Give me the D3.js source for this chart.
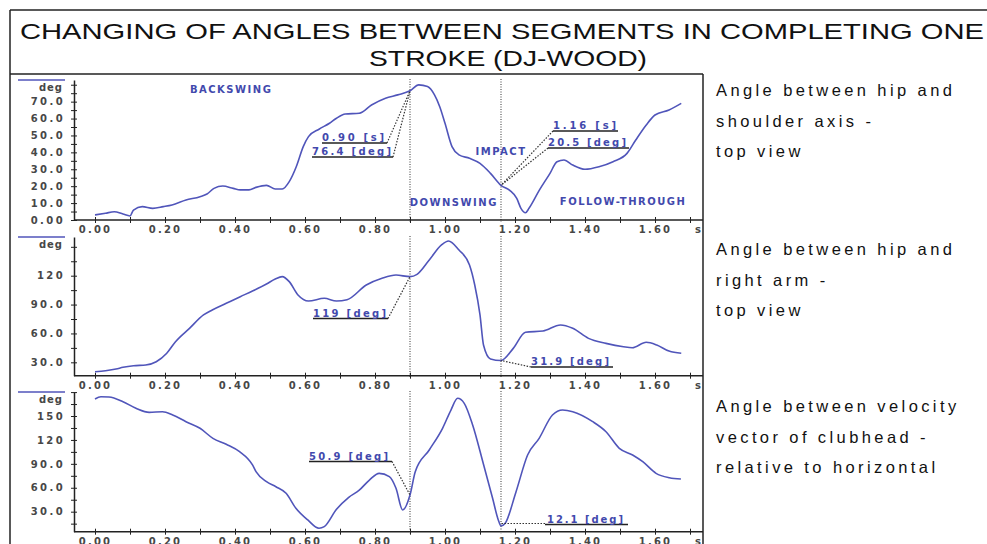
<!DOCTYPE html>
<html>
<head>
<meta charset="utf-8">
<script src="https://cdn.jsdelivr.net/npm/d3@7"></script>
<style>
  body { margin: 0; background: #fff; }
  svg { display: block; }
</style>
</head>
<body>
<svg></svg>
<script>
// ---- data ----
const titleLines = ["CHANGING OF ANGLES BETWEEN SEGMENTS IN COMPLETING ONE", "STROKE (DJ-WOOD)"];

// angle between hip and shoulder axis (top view)
const shoulderT = [0, 0.03, 0.055, 0.08, 0.10, 0.11, 0.135, 0.165, 0.195, 0.22, 0.26, 0.30, 0.32, 0.34, 0.365,
  0.395, 0.415, 0.44, 0.46, 0.49, 0.515, 0.535, 0.555, 0.575, 0.595, 0.61, 0.64, 0.67, 0.69, 0.715, 0.755,
  0.79, 0.83, 0.865, 0.90, 0.925, 0.95, 0.97, 0.985, 1.00, 1.02, 1.04, 1.07, 1.10, 1.13, 1.16, 1.185, 1.205,
  1.217, 1.23, 1.24, 1.27, 1.30, 1.32, 1.34, 1.365, 1.40, 1.44, 1.48, 1.52, 1.545, 1.575, 1.60, 1.64, 1.675];
const shoulderDeg = [3.0, 4.0, 4.9, 3.5, 2.4, 5.9, 7.9, 6.9, 7.9, 8.9, 11.8, 13.8, 15.4, 18.7, 20.1,
  18.7, 17.8, 17.8, 19.3, 20.5, 18.3, 18.3, 22.7, 31.5, 43.4, 49.3, 53.7, 57.2, 60.2, 62.7, 63.1,
  68.0, 72.0, 74.0, 76.4, 79.9, 78.9, 74.0, 67.0, 57.2, 43.4, 38.5, 36.5, 33.5, 27.6, 20.5, 17.5, 12.8,
  6.9, 4.3, 6.9, 17.8, 27.6, 34.5, 35.5, 32.5, 30.0, 31.5, 34.5, 39.4, 47.3, 56.2, 62.1, 65.1, 69.0];

// angle between hip and right arm (top view)
const armT = [0, 0.03, 0.06, 0.08, 0.11, 0.145, 0.175, 0.205, 0.23, 0.27, 0.31, 0.335, 0.375, 0.415, 0.45,
  0.49, 0.515, 0.535, 0.555, 0.58, 0.61, 0.655, 0.69, 0.72, 0.775, 0.82, 0.86, 0.90, 0.92, 0.955, 0.99,
  1.01, 1.04, 1.07, 1.085, 1.10, 1.11, 1.13, 1.16, 1.195, 1.23, 1.28, 1.33, 1.365, 1.41, 1.46, 1.51,
  1.535, 1.575, 1.605, 1.64, 1.675];
const armDeg = [20.2, 21.3, 23.0, 24.8, 26.5, 27.2, 30.6, 39.4, 51.4, 65.3, 79.2, 84.4, 91.3, 98.2, 104.1,
  111.4, 116.6, 119.0, 113.8, 100.0, 93.7, 96.5, 93.7, 95.0, 110.3, 117.3, 120.7, 119.0, 121.4, 136.3, 151.9,
  156.1, 146.7, 131.1, 110.3, 79.2, 48.0, 33.5, 31.9, 44.5, 61.2, 62.5, 68.8, 65.3, 54.9, 49.7, 46.2,
  45.2, 50.8, 48.0, 41.7, 39.4];

// angle between clubhead velocity vector and horizontal
const clubT = [0, 0.017, 0.04, 0.08, 0.117, 0.155, 0.193, 0.222, 0.26, 0.30, 0.337, 0.375, 0.413, 0.45,
  0.46, 0.49, 0.517, 0.546, 0.574, 0.608, 0.64, 0.655, 0.69, 0.725, 0.755, 0.784, 0.812, 0.841, 0.86,
  0.879, 0.90, 0.915, 0.955, 0.993, 1.017, 1.036, 1.055, 1.079, 1.108, 1.136, 1.152, 1.16, 1.172, 1.203,
  1.236, 1.269, 1.307, 1.336, 1.365, 1.422, 1.46, 1.498, 1.536, 1.565, 1.603, 1.641, 1.674];
const clubDeg = [171.3, 174.2, 173.8, 167.9, 159.7, 154.6, 155.4, 151.3, 142.9, 134.6, 122.0, 114.5, 105.2, 88.6,
  80.2, 67.6, 61.3, 53.1, 34.3, 19.6, 9.2, 11.2, 33.0, 48.0, 57.0, 69.7, 78.1, 73.9, 59.3,
  32.1, 50.9, 80.0, 107.4, 134.6, 157.5, 172.2, 165.9, 138.7, 92.7, 46.8, 20.0, 12.1, 15.5, 55.1,
  101.1, 122.0, 151.3, 157.5, 155.4, 142.9, 130.3, 109.5, 101.1, 92.7, 78.1, 72.6, 71.0];

const timeTicks = [0, 0.2, 0.4, 0.6, 0.8, 1.0, 1.2, 1.4, 1.6];
const shoulderTicks = [0, 10, 20, 30, 40, 50, 60, 70];
const armTicks = [30, 60, 90, 120];
const clubTicks = [30, 60, 90, 120, 150];

// key events: end of backswing and impact
const eventT = [0.90, 1.16];
const shoulderEvent = [76.4, 20.5];
const armEvent = [119, 31.9];
const clubEvent = [50.9, 12.1];

const phaseNames = ["BACKSWING", "DOWNSWING", "IMPACT", "FOLLOW-THROUGH"];
const phaseT = [0.389, 1.025, 1.16, 1.509];
const phaseDeg = [77.5, 10.6, 40.8, 11.2];

const panelNotes = [
  ["Angle between hip and", "shoulder axis -", "top view"],
  ["Angle between hip and", "right arm -", "top view"],
  ["Angle between velocity", "vector of clubhead -", "relative to horizontal"]
];

// ---- drawing ----
const W = 987, H = 544;
const blue = "#5055ba", textBlue = "#4249ad", tickGrey = "#474747";
const smallFont = "DejaVu Sans";

const svg = d3.select("svg").attr("width", W).attr("height", H);

const x = d3.scaleLinear().domain([0, 1]).range([95, 445]);

// frame
const frame = svg.append("g").attr("stroke", "#222").attr("stroke-width", 1.5);
frame.append("line").attr("x1", 10).attr("y1", 10).attr("x2", W).attr("y2", 10);
frame.append("line").attr("x1", 10).attr("y1", 10).attr("x2", 10).attr("y2", H);
frame.append("line").attr("x1", 10).attr("y1", 74).attr("x2", 703).attr("y2", 74);
frame.append("line").attr("x1", 703).attr("y1", 74).attr("x2", 703).attr("y2", H);

// title
svg.append("text").attr("x", 20).attr("y", 39)
  .attr("font-family", "Liberation Sans Narrow, Liberation Sans, Arial").attr("font-size", 22.5)
  .attr("fill", "#111").attr("textLength", 964).attr("lengthAdjust", "spacingAndGlyphs")
  .text(titleLines[0]);
svg.append("text").attr("x", 369).attr("y", 65.5)
  .attr("font-family", "Liberation Sans Narrow, Liberation Sans, Arial").attr("font-size", 22.5)
  .attr("fill", "#111").attr("textLength", 278).attr("lengthAdjust", "spacingAndGlyphs")
  .text(titleLines[1]);

const panels = [
  { t: shoulderT, v: shoulderDeg, ticks: shoulderTicks, step: 5, ev: shoulderEvent,
    domain: [0, 82.8], y0: 220, y1: 80, noteY: 96,
    labels: [
      { text: "0.90 [s]", ev: 0, x1: 322, x2: 384, base: 141, ux2: 387 },
      { text: "76.4 [deg]", ev: 0, x1: 312, x2: 391, base: 155, ux2: 393 },
      { text: "1.16 [s]", ev: 1, x1: 553, x2: 616, base: 129, ux2: 618, leadStart: true },
      { text: "20.5 [deg]", ev: 1, x1: 548, x2: 626, base: 146, ux2: 629, leadStart: true }
    ] },
  { t: armT, v: armDeg, ticks: armTicks, step: 15, ev: armEvent,
    domain: [16.1, 160.2], y0: 375.7, y1: 237, noteY: 255,
    labels: [
      { text: "119 [deg]", ev: 0, x1: 313, x2: 386, base: 316.5, ux2: 388 },
      { text: "31.9 [deg]", ev: 1, x1: 531, x2: 609, base: 365, ux2: 613, leadStart: true }
    ] },
  { t: clubT, v: clubDeg, ticks: clubTicks, step: 15, ev: clubEvent,
    domain: [4.9, 180.1], y0: 531.7, y1: 392, noteY: 412,
    labels: [
      { text: "50.9 [deg]", ev: 0, x1: 309, x2: 388, base: 459.5, ux2: 392 },
      { text: "12.1 [deg]", ev: 1, x1: 547, x2: 623, base: 522.5, ux1: 545, ux2: 628, leadStart: true, flat: true }
    ] }
];

panels.forEach((p, i) => {
  const y = d3.scaleLinear().domain(p.domain).range([p.y0, p.y1]);
  const g = svg.append("g");

  // event markers (vertical dotted lines)
  eventT.forEach((t, k) => {
    g.append("line")
      .attr("x1", x(t)).attr("x2", x(t))
      .attr("y1", p.y1 - 1).attr("y2", p.y0 + 2)
      .attr("stroke", k === 0 ? "#333" : "#999")
      .attr("stroke-width", k === 0 ? 1 : 2)
      .attr("stroke-dasharray", "1,1.5");
  });

  // y axis
  const minor = d3.range(Math.ceil(p.domain[0] / p.step) * p.step, p.domain[1], p.step);
  const yAxis = d3.axisLeft(y).tickValues(minor).tickSize(3).tickSizeOuter(0).tickPadding(6)
    .tickFormat(d => p.ticks.includes(d) ? d3.format(".3r")(d) : "");
  const ya = g.append("g").attr("transform", "translate(74,0)").call(yAxis);
  ya.select(".domain").attr("stroke", "#222").attr("stroke-width", 1.5);
  ya.selectAll(".tick line").attr("x1", -3).attr("x2", 3).attr("stroke", "#222");
  ya.selectAll(".tick text").attr("font-family", smallFont).attr("font-size", 10)
    .attr("font-weight", "bold").attr("fill", tickGrey).attr("letter-spacing", "2.4px");

  // x axis
  const xAxis = d3.axisBottom(x).tickValues(d3.range(0, 1.75, 0.1)).tickSize(3).tickPadding(3)
    .tickFormat(d => timeTicks.some(v => Math.abs(v - d) < 1e-6) ? d3.format(".2f")(d) : "");
  const xa = g.append("g").attr("transform", `translate(0,${p.y0})`).call(xAxis);
  xa.select(".domain").remove();
  xa.selectAll(".tick line").attr("y1", -3).attr("y2", 3).attr("stroke", "#222");
  xa.selectAll(".tick text").attr("font-family", smallFont).attr("font-size", 10)
    .attr("font-weight", "bold").attr("fill", tickGrey).attr("letter-spacing", "2.2px");
  g.append("line").attr("x1", 74).attr("x2", 703).attr("y1", p.y0).attr("y2", p.y0)
    .attr("stroke", "#222").attr("stroke-width", 1.5);
  g.append("text").attr("x", 695).attr("y", p.y0 + 13).attr("font-family", smallFont)
    .attr("font-size", 10).attr("font-weight", "bold").attr("fill", tickGrey).text("s");

  // legend sample + unit
  g.append("line").attr("x1", 18).attr("x2", 65).attr("y1", p.y1).attr("y2", p.y1)
    .attr("stroke", blue).attr("stroke-width", 1.5);
  g.append("text").attr("x", 63).attr("y", p.y1 + 11).attr("text-anchor", "end")
    .attr("font-family", smallFont).attr("font-size", 10).attr("font-weight", "bold")
    .attr("fill", tickGrey).attr("letter-spacing", "1px").text("deg");

  // curve
  const pts = p.t.map((t, k) => [t, p.v[k]]);
  g.append("path").datum(pts)
    .attr("fill", "none").attr("stroke", blue).attr("stroke-width", 1.6)
    .attr("stroke-linejoin", "round")
    .attr("d", d3.line().x(d => x(d[0])).y(d => y(d[1])).curve(d3.curveMonotoneX));

  // value labels with leaders
  p.labels.forEach(l => {
    const px = x(eventT[l.ev]), py = y(p.ev[l.ev]);
    const ux1 = l.ux1 || l.x1;
    const uy = l.base + 2;
    let sx, sy;
    if (l.flat) { sx = ux1; sy = uy - 1; }
    else if (l.leadStart) { sx = ux1; sy = uy; }
    else { sx = l.ux2; sy = uy; }
    g.append("line").attr("x1", sx).attr("y1", sy).attr("x2", px).attr("y2", l.flat ? sy : py)
      .attr("stroke", "#333").attr("stroke-width", 1.2).attr("stroke-dasharray", "1.5,1.5");
    g.append("line").attr("x1", ux1).attr("x2", l.ux2).attr("y1", uy).attr("y2", uy)
      .attr("stroke", "#222").attr("stroke-width", 1.3);
    g.append("text").attr("x", l.x1).attr("y", l.base)
      .attr("font-family", smallFont).attr("font-size", 10).attr("font-weight", "bold")
      .attr("fill", textBlue).attr("textLength", l.x2 - l.x1).attr("lengthAdjust", "spacing")
      .text(l.text);
  });

  // phase names (top panel only)
  if (i === 0) {
    phaseNames.forEach((name, k) => {
      g.append("text").attr("x", x(phaseT[k])).attr("y", y(phaseDeg[k]) + 4)
        .attr("text-anchor", "middle").attr("font-family", smallFont).attr("font-size", 10)
        .attr("font-weight", "bold").attr("fill", textBlue).attr("letter-spacing", "1.5px")
        .text(name);
    });
  }

  // description on the right
  panelNotes[i].forEach((line, k) => {
    svg.append("text").attr("x", 716).attr("y", p.noteY + k * 30.5)
      .attr("font-family", "Liberation Sans, Arial").attr("font-size", 16.5)
      .attr("fill", "#111").attr("letter-spacing", "3.4px").text(line);
  });
});
</script>
</body>
</html>
